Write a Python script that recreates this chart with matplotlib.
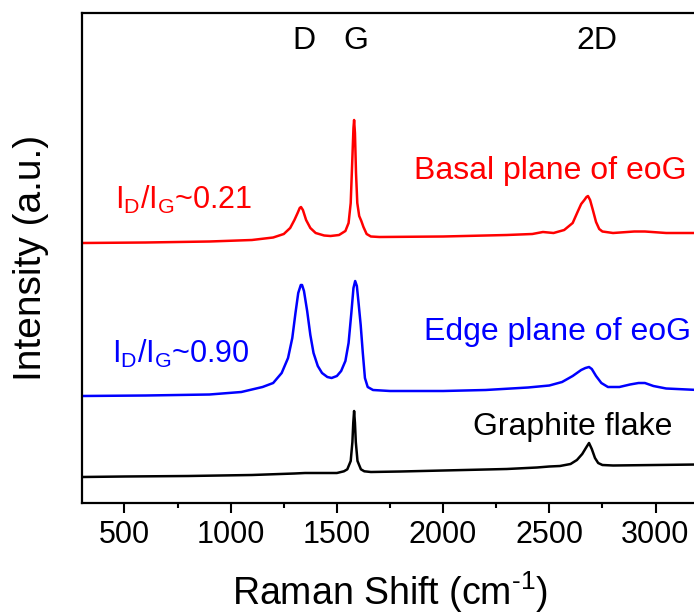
import matplotlib
matplotlib.use("Agg")
import matplotlib.pyplot as plt
from matplotlib.ticker import MultipleLocator, NullLocator

plt.rcParams["font.family"] = ["Liberation Sans", "DejaVu Sans"]
plt.rcParams["mathtext.fontset"] = "custom"
plt.rcParams["mathtext.rm"] = "Liberation Sans"
plt.rcParams["mathtext.it"] = "Liberation Sans"
plt.rcParams["mathtext.default"] = "regular"

# Raman spectra (shift in cm^-1, stacked intensity in arbitrary units)
graphite_shift = [300, 500, 800, 1100, 1300, 1350, 1450, 1500, 1533, 1549, 1565, 1573,
                  1577, 1581, 1585, 1589, 1597, 1613, 1629, 1660, 1800, 2000, 2300,
                  2442, 2500, 2550, 2600, 2630, 2655, 2675, 2687, 2700, 2715, 2730,
                  2750, 2800, 3000, 3200]
graphite_int = [26, 26.5, 27, 28, 29.5, 30, 30, 30, 31.7, 33.7, 42, 61,
                80, 92, 80, 61, 42, 33.7, 31.7, 31, 31.5, 32.5, 34,
                35.5, 36.5, 37, 39, 43, 49, 56, 60, 54, 45, 40,
                38, 37.5, 38, 38.5]

edge_shift = [300, 600, 900, 1050, 1150, 1200, 1240, 1270, 1290, 1305, 1318, 1330,
              1336, 1345, 1360, 1375, 1390, 1410, 1430, 1455, 1475, 1500, 1520,
              1540, 1555, 1568, 1578, 1586, 1594, 1602, 1612, 1622, 1632, 1645,
              1670, 1750, 2000, 2200, 2400, 2500, 2560, 2610, 2650, 2670, 2687,
              2700, 2720, 2745, 2776, 2830, 2880, 2920, 2950, 2990, 3050, 3200]
edge_int = [107, 107.5, 108.5, 111, 116, 120, 130, 145, 165, 190, 210, 218,
            218, 212, 192, 168, 150, 137, 130, 126, 125, 127, 132,
            142, 160, 190, 215, 222, 217, 200, 178, 150, 125, 116,
            113, 112, 112, 113, 115.5, 117.5, 121, 127, 133, 135, 136,
            134, 127, 120, 116, 116, 118.5, 120, 120, 117, 114.5, 113]

basal_shift = [300, 600, 900, 1100, 1200, 1250, 1280, 1300, 1315, 1325, 1331, 1340,
               1355, 1375, 1400, 1440, 1470, 1510, 1540, 1555, 1565, 1572, 1578,
               1581, 1585, 1590, 1596, 1605, 1615, 1625, 1640, 1660, 1700, 2000,
               2300, 2420, 2470, 2520, 2570, 2610, 2635, 2650, 2665, 2675, 2682,
               2692, 2705, 2720, 2735, 2750, 2800, 2900, 2950, 3050, 3200]
basal_int = [260, 260.5, 261.5, 263, 265.5, 269, 275, 283, 290, 295, 296, 293,
             283, 275, 270, 267.5, 267, 268, 272, 280, 300, 340, 375,
             383, 370, 330, 300, 287, 282, 276, 269, 266.5, 266, 266.5,
             268, 269, 271, 270, 273, 280, 292, 299, 303, 306, 307,
             303, 293, 281, 274, 271.5, 270, 271.5, 271.5, 270, 270]

peak_names = ["D", "G", "2D"]
peak_label_pos = [1345, 1590, 2725]

ratio_basal = "0.21"
ratio_edge = "0.90"

fig = plt.figure(figsize=(6.94, 6.14), dpi=100)
ax = fig.add_axes([82 / 694, 111 / 614, 616 / 694, 490 / 614])

ax.plot(graphite_shift, graphite_int, color="black", lw=1.8)
ax.plot(edge_shift, edge_int, color="#0000FF", lw=1.8)
ax.plot(basal_shift, basal_int, color="#FF0000", lw=1.8)

ax.set_xlim(300, 3200)
ax.set_ylim(0, 490)

for sp in ax.spines.values():
    sp.set_linewidth(1.6)

ax.xaxis.set_major_locator(MultipleLocator(500))
ax.xaxis.set_minor_locator(MultipleLocator(250))
ax.yaxis.set_major_locator(NullLocator())
ax.tick_params(axis="x", which="major", direction="out", length=7, width=1.5,
               labelsize=22, pad=5)
ax.tick_params(axis="x", which="minor", direction="out", length=3.6, width=1.5)
ax.tick_params(top=False, right=False, left=False)

ax.set_xlabel("Raman Shift (cm$^{\u20101}$)", fontsize=27, labelpad=14)
ax.set_ylabel("Intensity (a.u.)", fontsize=28, labelpad=24)

for name, pos in zip(peak_names, peak_label_pos):
    ax.text(pos, 454, name, fontsize=23, ha="center", va="baseline")

ax.text(3148, 324, "Basal plane of eoG", color="#FF0000", fontsize=23,
        ha="right", va="baseline")
ax.text(1910, 163, "Edge plane of eoG", color="#0000FF", fontsize=23,
        ha="left", va="baseline")
ax.text(2141, 68, "Graphite flake", color="black", fontsize=23,
        ha="left", va="baseline")

ax.text(455, 294, "I$_{D}$/I$_{G}$~" + ratio_basal, color="#FF0000", fontsize=22,
        ha="left", va="baseline")
ax.text(441, 140, "I$_{D}$/I$_{G}$~" + ratio_edge, color="#0000FF", fontsize=22,
        ha="left", va="baseline")

fig.savefig("out.png", dpi=100)
